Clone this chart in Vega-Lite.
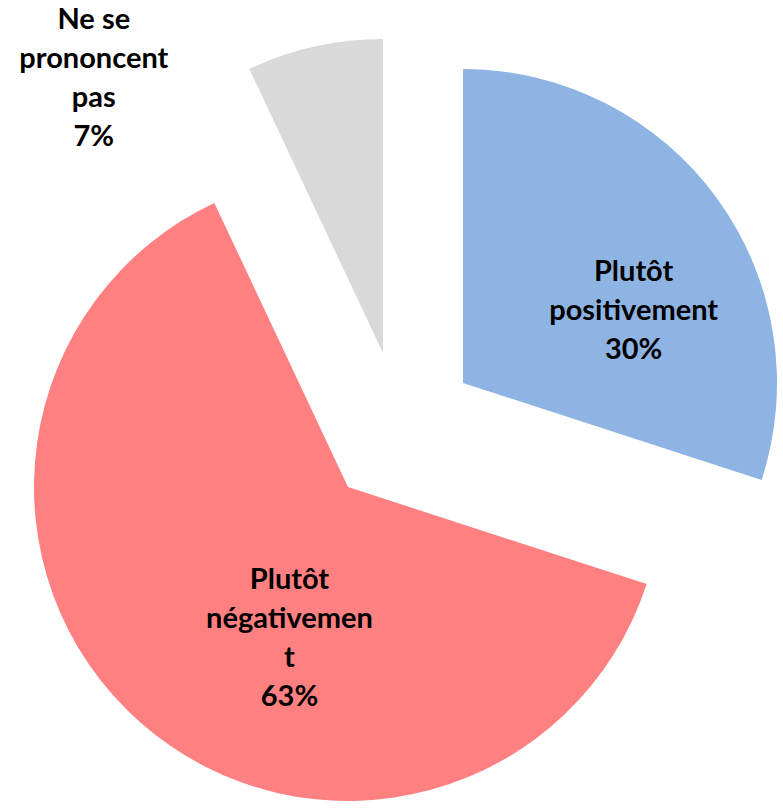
{
  "$schema": "https://vega.github.io/schema/vega-lite/v6.json",
  "width": 766,
  "height": 762,
  "autosize": "none",
  "padding": {"left": 17, "top": 48, "right": 0, "bottom": 0},
  "background": "white",
  "config": {"view": {"stroke": null}},
  "data": {
    "values": [
      {"cat": "Plutôt positivement", "value": 30, "ordre": 1, "label": "Plutôt\npositivement\n30%"},
      {"cat": "Plutôt négativement", "value": 63, "ordre": 2, "label": "Plutôt\nnégativemen\nt\n63%"},
      {"cat": "Ne se prononcent pas", "value": 7, "ordre": 3, "label": "Ne se\nprononcent\npas\n7%"}
    ]
  },
  "transform": [
    {"stack": "value", "groupby": [], "sort": [{"field": "ordre", "order": "ascending"}], "as": ["v0", "v1"]},
    {"calculate": "(datum.v0 + datum.v1) / 2", "as": "mid"}
  ],
  "layer": [
    {
      "transform": [{"filter": "datum.ordre == 1"}],
      "mark": {"type": "arc", "outerRadius": 314, "xOffset": 63, "yOffset": -46},
      "encoding": {
        "theta": {"field": "v0", "type": "quantitative", "stack": null, "scale": {"domain": [0, 100]}},
        "theta2": {"field": "v1"},
        "color": {"field": "cat", "type": "nominal", "legend": null,
          "scale": {"domain": ["Plutôt positivement", "Plutôt négativement", "Ne se prononcent pas"], "range": ["#8EB4E3", "#FF8080", "#D9D9D9"]}}
      }
    },
    {
      "transform": [{"filter": "datum.ordre == 2"}],
      "mark": {"type": "arc", "outerRadius": 314, "xOffset": -52, "yOffset": 58},
      "encoding": {
        "theta": {"field": "v0", "type": "quantitative", "stack": null, "scale": {"domain": [0, 100]}},
        "theta2": {"field": "v1"},
        "color": {"field": "cat", "type": "nominal", "legend": null}
      }
    },
    {
      "transform": [{"filter": "datum.ordre == 3"}],
      "mark": {"type": "arc", "outerRadius": 314, "xOffset": -17, "yOffset": -76},
      "encoding": {
        "theta": {"field": "v0", "type": "quantitative", "stack": null, "scale": {"domain": [0, 100]}},
        "theta2": {"field": "v1"},
        "color": {"field": "cat", "type": "nominal", "legend": null}
      }
    },
    {
      "transform": [{"filter": "datum.ordre == 1"}],
      "mark": {"type": "text", "radius": 180, "xOffset": 63, "yOffset": -46, "dx": 25, "dy": -5,
        "font": "Lato", "fontSize": 29, "fontWeight": "bold", "lineBreak": "\n", "lineHeight": 39,
        "align": "center", "baseline": "middle", "color": "black"},
      "encoding": {
        "theta": {"field": "mid", "type": "quantitative", "scale": {"domain": [0, 100]}},
        "text": {"field": "label"}
      }
    },
    {
      "transform": [{"filter": "datum.ordre == 2"}],
      "mark": {"type": "text", "radius": 152, "xOffset": -52, "yOffset": 58, "dx": 42, "dy": -21,
        "font": "Lato", "fontSize": 29, "fontWeight": "bold", "lineBreak": "\n", "lineHeight": 39,
        "align": "center", "baseline": "middle", "color": "black"},
      "encoding": {
        "theta": {"field": "mid", "type": "quantitative", "scale": {"domain": [0, 100]}},
        "text": {"field": "label"}
      }
    },
    {
      "transform": [{"filter": "datum.ordre == 3"}],
      "mark": {"type": "text", "radius": 331, "xOffset": -17, "yOffset": -76, "dx": -217, "dy": -10,
        "font": "Lato", "fontSize": 29, "fontWeight": "bold", "lineBreak": "\n", "lineHeight": 39,
        "align": "center", "baseline": "middle", "color": "black"},
      "encoding": {
        "theta": {"field": "mid", "type": "quantitative", "scale": {"domain": [0, 100]}},
        "text": {"field": "label"}
      }
    }
  ]
}
